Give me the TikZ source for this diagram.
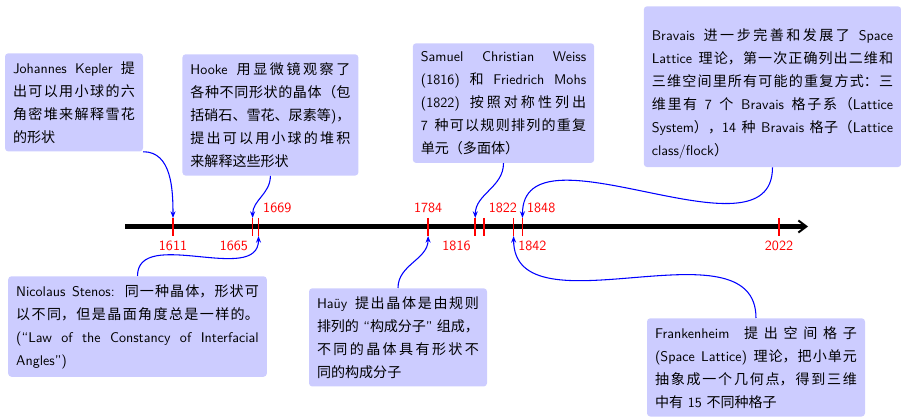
\documentclass[tikz,border=0pt]{standalone}
\usepackage{fontspec}
\newfontfamily\cjk{Noto Sans CJK SC}
\XeTeXlinebreaklocale "zh"
\XeTeXlinebreakskip = 0pt plus 1pt minus 0.5pt
\tolerance=10000
\usetikzlibrary{arrows.meta}
\tikzset{
	box/.style={fill=blue!20, rounded corners=2.5pt, inner sep=6pt, anchor=north, align=justify, font=\sffamily\fontsize{10.54pt}{17.3pt}\selectfont},
	link/.style={blue, thick, -{Stealth[length=5pt]}},
	year/.style={red, font=\sffamily\fontsize{10.54pt}{12pt}\selectfont},
}
\begin{document}
\begin{tikzpicture}[x=0.75pt, y=-0.75pt]
	\useasboundingbox (0,0) rectangle (901,417);
	\draw[line width=3.75pt, -{Straight Barb[length=6pt, width=9pt, line width=1.5pt]}] (125,226.5) -- (808,226.5);
	\foreach \yr/\anc/\ly in {1611/north/236, 1665/north east/236, 1669/south west/218, 1784/south/218, 1816/north east/236, 1822/south west/218, 1842/north west/236, 1848/south west/218, 2022/north/236}{
		\pgfmathsetmacro{\x}{173+(\yr-1611)*1.4745}
		\coordinate (up\yr) at (\x,218);
		\coordinate (dn\yr) at (\x,236);
		\draw[red, line width=1.2pt] (up\yr) -- (dn\yr);
		\node[year, anchor=\anc] (y\yr) at (\x,\ly) {\yr};
	}
	\node[box, text width=91.5pt] (kepler) at (74,53) {Johannes Kepler {\cjk 提\linebreak 出可以用小球的六\linebreak 角密堆来解释雪花\linebreak 的形状}};
	\node[box, text width=120pt] (hooke) at (270.4,54) {Hooke {\cjk 用显微镜观察了\linebreak 各种不同形状的晶体（包\linebreak 括硝石、雪花、尿素等}){\cjk ，\linebreak 提出可以用小球的堆积\linebreak 来解释这些形状}};
	\node[box, text width=124pt] (weiss) at (503.5,43) {Samuel Christian Weiss\linebreak (1816) {\cjk 和} Friedrich Mohs\linebreak (1822) {\cjk 按照对称性列出}\linebreak 7 {\cjk 种可以规则排列的重复\linebreak 单元（多面体）}};
	\node[box, text width=181pt] (bravais) at (772.5,6) {\rule{0pt}{19.5pt}Bravais {\cjk 进一步完善和发展了} Space\linebreak Lattice {\cjk 理论，第一次正确列出二维和\linebreak 三维空间里所有可能的重复方式：三\linebreak 维里有} 7 {\cjk 个} Bravais {\cjk 格子系（}Lattice\linebreak System{\cjk ），}14 {\cjk 种} Bravais {\cjk 格子（}Lattice\linebreak class/flock{\cjk ）}};
	\node[box, text width=182pt] (stenos) at (137.5,276) {Nicolaus Stenos: {\cjk 同一种晶体，形状可\linebreak 以不同，但是晶面角度总是一样的。}\linebreak (“Law of the Constancy of Interfacial\linebreak Angles”)};
	\node[box, text width=121.5pt] (hauy) at (398,288) {Haüy {\cjk 提出晶体是由规则\linebreak 排列的} “{\cjk 构成分子}” {\cjk 组成，\linebreak 不同的晶体具有形状不\linebreak 同的构成分子}};
	\node[box, text width=151.5pt] (franken) at (756,318) {Frankenheim {\cjk 提出空间格子}\linebreak (Space Lattice) {\cjk 理论，把小单元\linebreak 抽象成一个几何点，得到三维\linebreak 中有} 15 {\cjk 不同种格子}};
	\draw[link] (kepler.south east) to[out=0, in=90] (up1611);
	\draw[link] (hooke.south) to[out=-90, in=90] (up1665);
	\draw[link] (stenos.north) to[out=90, in=-90] (dn1669);
	\draw[link] (hauy.north) to[out=90, in=-90] (dn1784);
	\draw[link] (weiss.south) to[out=-90, in=90] (up1816);
	\draw[link] (franken.north) to[out=90, in=-90] (dn1842);
	\draw[link] (bravais.south) to[out=-90, in=90] (up1848);
\end{tikzpicture}
\end{document}
